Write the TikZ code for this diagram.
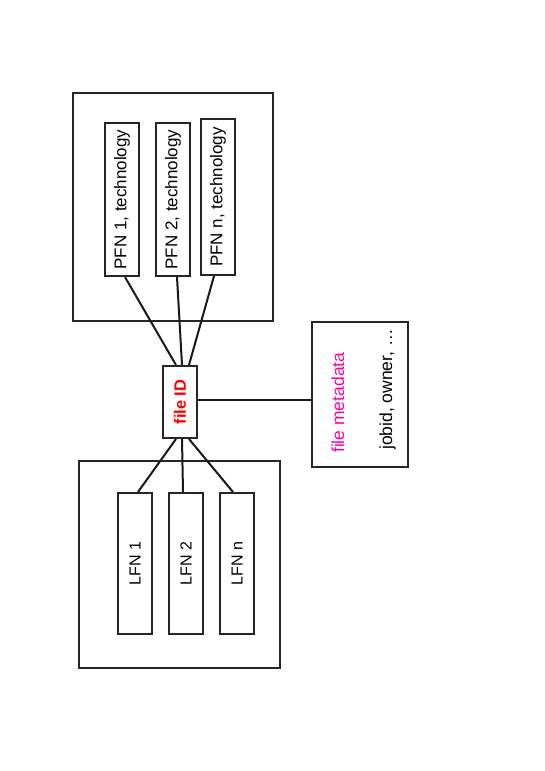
\documentclass[tikz,border=0pt]{standalone}
\usepackage{fontspec}
\setmainfont{Liberation Sans}
\usetikzlibrary{calc}
\definecolor{fidred}{RGB}{255,0,0}
\definecolor{metapink}{RGB}{255,0,160}
\begin{document}
\begin{tikzpicture}[x=1pt,y=-1pt,
  outerbox/.style={draw=black!85,line width=1.5pt},
  itembox/.style={draw=black!85,line width=2pt,inner sep=0pt,minimum width=34pt},
  link/.style={draw=black!90,line width=2pt},
  pfntext/.style={font=\fontsize{17}{20}\selectfont},
  lfntext/.style={font=\fontsize{16}{19}\selectfont},
]
\useasboundingbox[fill=white] (0,0) rectangle (545,771);
% outer containers
\draw[outerbox] (73,93) rectangle (273,321);
\draw[outerbox] (79,461) rectangle (280,668);
% PFN boxes
\node[itembox,pfntext,minimum height=153pt] (pfn1) at (122,199.5) {\rotatebox{90}{PFN 1, technology}};
\node[itembox,pfntext,minimum height=153pt] (pfn2) at (173,199.5) {\rotatebox{90}{PFN 2, technology}};
\node[itembox,pfntext,minimum height=156pt] (pfnn) at (218,197) {\rotatebox{90}{PFN n, technology}};
% file ID
\node[itembox,minimum height=72pt,text=fidred,font=\bfseries\fontsize{16.5}{19}\selectfont] (fid) at (180,402) {\rotatebox{90}{file ID}};
% LFN boxes
\node[itembox,lfntext,minimum height=141pt] (lfn1) at (135,563.5) {\rotatebox{90}{LFN 1}};
\node[itembox,lfntext,minimum height=141pt] (lfn2) at (186,563.5) {\rotatebox{90}{LFN 2}};
\node[itembox,lfntext,minimum height=141pt] (lfnn) at (237,563.5) {\rotatebox{90}{LFN n}};
% metadata
\node[draw=black!85,line width=2pt,minimum width=96pt,minimum height=145pt,inner sep=0pt] (meta) at (360,394.5) {};
\node[rotate=90,anchor=base west,inner sep=0pt,text=metapink,font=\fontsize{17.5}{20}\selectfont] (mt1) at (344,453) {file metadata};
\node[rotate=90,anchor=base west,inner sep=0pt,font=\fontsize{17.5}{20}\selectfont] (mt2) at (392,450) {jobid, owner, \dots};
% connectors
\draw[link] ($(pfn1.south)+(3,0)$) -- ($(fid.north)+(-4,0)$);
\draw[link] ($(pfn2.south)+(4,0)$) -- ($(fid.north)+(2,0)$);
\draw[link] ($(pfnn.south)+(-4,0)$) -- ($(fid.north)+(9,0)$);
\draw[link] ($(fid.south)+(-4,0)$) -- ($(lfn1.north)+(3,0)$);
\draw[link] ($(fid.south)+(2,0)$) -- ($(lfn2.north)+(-3,0)$);
\draw[link] ($(fid.south)+(9,0)$) -- ($(lfnn.north)+(-4,0)$);
\coordinate (fidr) at ($(fid.east)+(0,-2)$);
\draw[link] (fidr) -- (fidr -| meta.west);
\end{tikzpicture}
\end{document}
